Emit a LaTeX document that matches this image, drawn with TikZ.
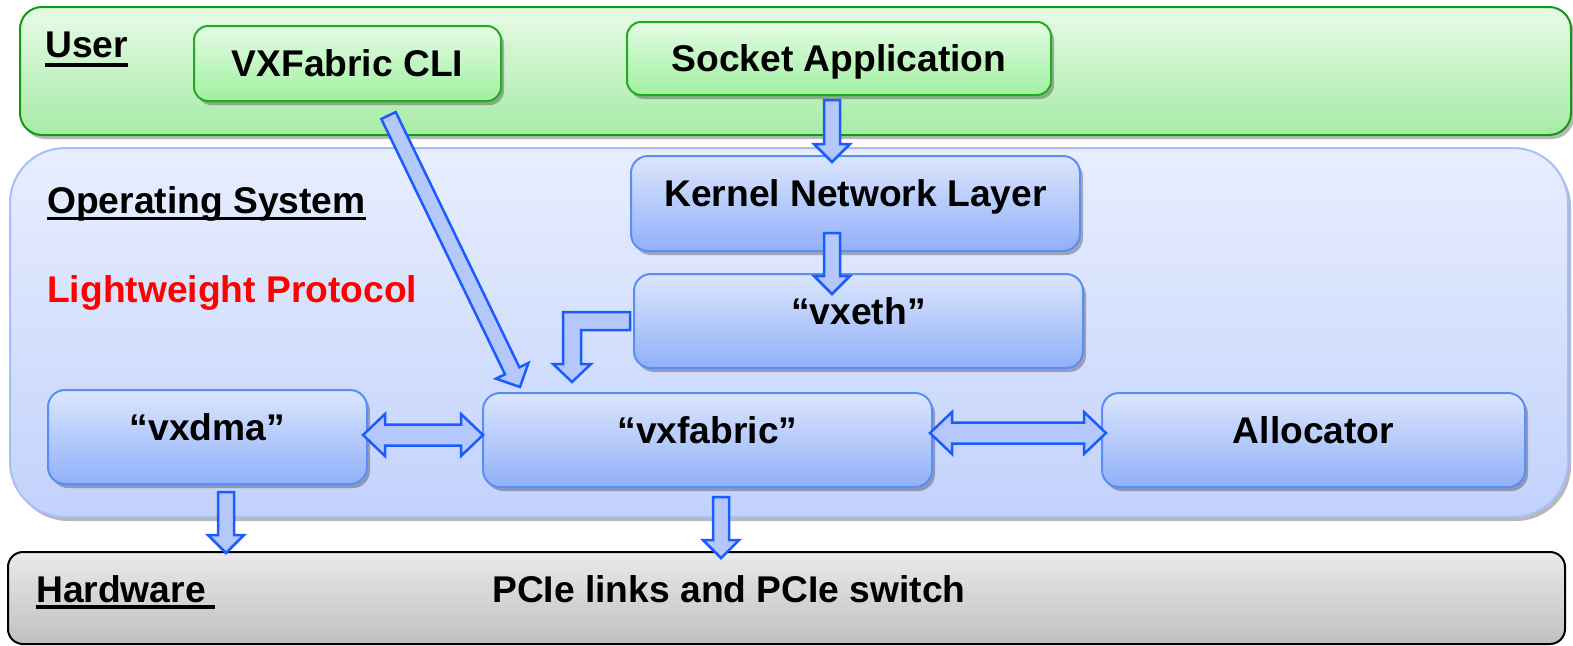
\documentclass[tikz,border=0pt]{standalone}
\usepackage{fontspec}
\setmainfont{Liberation Sans}
\usetikzlibrary{shadows,calc}
\definecolor{usertop}{HTML}{E8FAE8}
\definecolor{userbot}{HTML}{A6EBA6}
\definecolor{userline}{HTML}{109A10}
\definecolor{gtop}{HTML}{E4FCE4}
\definecolor{gbot}{HTML}{A0F0A0}
\definecolor{gline}{HTML}{22AA22}
\definecolor{ostop}{HTML}{E8EEFE}
\definecolor{osbot}{HTML}{C2D2FC}
\definecolor{osline}{HTML}{A8BEF8}
\definecolor{btop}{HTML}{DCE6FD}
\definecolor{bbot}{HTML}{90B0FA}
\definecolor{bline}{HTML}{5B8EF5}
\definecolor{afill}{HTML}{B4C8FC}
\definecolor{aline}{HTML}{1A5CFF}
\definecolor{hwtop}{HTML}{EAEAEA}
\definecolor{hwbot}{HTML}{C0C0C0}
\newcommand{\bigfont}{\bfseries\fontsize{37.2}{41}\selectfont}
% vertical block arrow: start (top centre) to tip
\newcommand{\downblk}[2]{\draw[blk] let \p1=(#1), \p2=(#2) in
  (\x1-8pt,\y1) -- (\x1+8pt,\y1) -- (\x1+8pt,\y2+18pt) -- (\x1+18pt,\y2+18pt) --
  (\x1,\y2) -- (\x1-18pt,\y2+18pt) -- (\x1-8pt,\y2+18pt) -- cycle;}
% horizontal double block arrow: left tip to right tip
\newcommand{\dblblk}[2]{\draw[blk] let \p1=(#1), \p2=(#2) in
  (\x1,\y1) -- (\x1+22pt,\y1+21pt) -- (\x1+22pt,\y1+10.5pt) -- (\x2-22pt,\y1+10.5pt) --
  (\x2-22pt,\y1+21pt) -- (\x2,\y1) -- (\x2-22pt,\y1-21pt) -- (\x2-22pt,\y1-10.5pt) --
  (\x1+22pt,\y1-10.5pt) -- (\x1+22pt,\y1-21pt) -- cycle;}
\begin{document}
\begin{tikzpicture}[x=1pt,y=-1pt,
  myshadow/.style={drop shadow={shadow xshift=3pt,shadow yshift=-4pt,opacity=0.28,fill=black}},
  layerbox/.style={line width=2pt,inner sep=0pt,outer sep=0pt},
  gnode/.style={draw=gline,line width=2pt,rounded corners=14pt,top color=gtop,bottom color=gbot,
    myshadow,font=\bigfont,text height=26.5pt,text depth=0pt,inner sep=0pt,outer sep=0pt},
  bnode/.style={draw=bline,line width=2pt,rounded corners=17pt,top color=btop,bottom color=bbot,
    myshadow,font=\bigfont,text height=26.5pt,text depth=20.5pt,inner sep=0pt,outer sep=0pt},
  lbl/.style={font=\bigfont,inner sep=0pt,anchor=base west},
  uline/.style={line width=3.5pt},
  blk/.style={draw=aline,fill=afill,line width=2.5pt,line join=miter,miter limit=4}]
\useasboundingbox (0,0) rectangle (1573,645);
\clip (0,0) rectangle (1573,645);

% layers
\node[layerbox,draw=userline,rounded corners=22pt,top color=usertop,bottom color=userbot,myshadow,
  minimum width=1551pt,minimum height=128pt] (user) at (795.5,71) {};
\node[layerbox,draw=osline,rounded corners=55pt,top color=ostop,bottom color=osbot,myshadow,
  minimum width=1558pt,minimum height=369pt] (os) at (789,332.5) {};
\node[layerbox,draw=black,rounded corners=15pt,top color=hwtop,bottom color=hwbot,
  minimum width=1557pt,minimum height=92pt] (hw) at (786.5,598) {};

% layer labels
\node[lbl] (userlbl) at (45,57) {User};
\draw[uline] ([yshift=-8pt]userlbl.base west) -- ([yshift=-8pt]userlbl.base east);
\node[lbl] (oslbl) at (47,213) {Operating System};
\draw[uline] ([yshift=-5.5pt]oslbl.base west) -- ([yshift=-5.5pt]oslbl.base east);
\node[lbl,text=red] (lwp) at (47,302) {Lightweight Protocol};
\node[lbl] (hwlbl) at (36,602) {Hardware};
\draw[uline] ([yshift=-5pt]hwlbl.base west) -- ++(179,0);
\node[lbl] (pcie) at (492,602) {PCIe links and PCIe switch};

% component nodes
\node[gnode,minimum width=307pt,minimum height=75pt] (cli) at (347.5,63.5) {VXFabric CLI};
\node[gnode,minimum width=424pt,minimum height=73pt] (sock) at (839,58.5) {Socket Application};
\node[bnode,minimum width=449pt,minimum height=95pt] (kern) at (855.5,203.5) {Kernel Network Layer};
\node[bnode,minimum width=449pt,minimum height=94pt] (vxeth) at (858.5,321) {“vxeth”};
\node[bnode,minimum width=319pt,minimum height=94pt] (vxdma) at (207.5,437) {“vxdma”};
\node[bnode,minimum width=449pt,minimum height=94pt] (vxfab) at (707.5,440) {“vxfabric”};
\node[bnode,minimum width=423pt,minimum height=94pt] (alloc) at (1313.5,440) {Allocator};

% connector end points
\coordinate (a1s) at (832,100);  \coordinate (a1t) at (832,162);
\coordinate (a2s) at (832,233);  \coordinate (a2t) at (832,294);
\coordinate (a3s) at (226,492);  \coordinate (a3t) at (226,553);
\coordinate (a4s) at (721,497);  \coordinate (a4t) at (721,558);
\coordinate (d1l) at (363,435);  \coordinate (d1r) at (483,435);
\coordinate (d2l) at (930,433);  \coordinate (d2r) at (1106,433);

% block arrows
\downblk{a1s}{a1t}
\downblk{a2s}{a2t}
\downblk{a3s}{a3t}
\downblk{a4s}{a4t}
\dblblk{d1l}{d1r}
\dblblk{d2l}{d2r}
% CLI -> vxfabric (diagonal)
\draw[blk] (381.3,119.0) -- (395.7,112.0) -- (519.4,367.3) -- (528.4,363.0) -- (520,387)
  -- (496.0,378.7) -- (505.0,374.3) -- cycle;
% vxeth -> vxfabric (elbow)
\draw[blk] (630,312) -- (563,312) -- (563,364) -- (553,364) -- (572,382) -- (591,364)
  -- (581,364) -- (581,330) -- (630,330) -- cycle;
\end{tikzpicture}
\end{document}
